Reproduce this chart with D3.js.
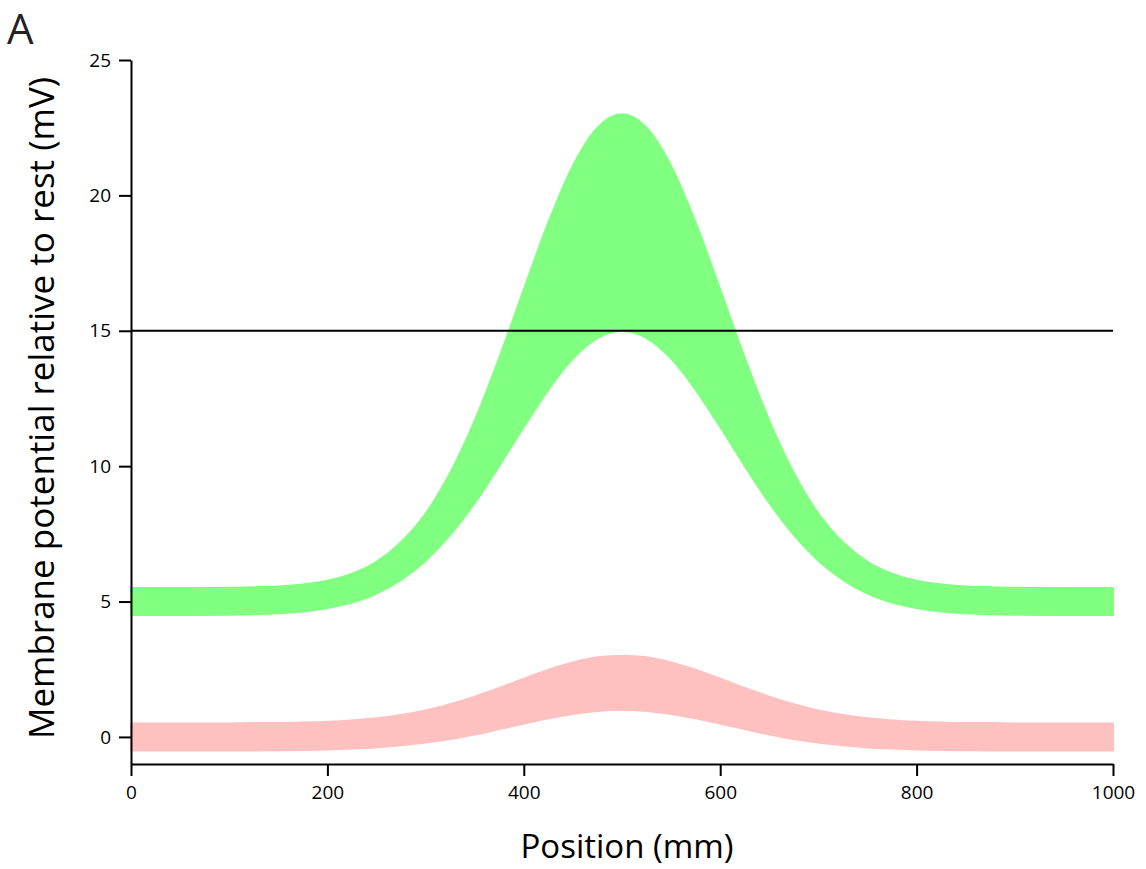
<!DOCTYPE html>
<html>
<head>
<meta charset="utf-8">
<script src="https://cdn.jsdelivr.net/npm/d3@7"></script>
<style>
  html, body { margin: 0; padding: 0; background: #fff; }
  svg { display: block; font-family: "Open Sans", "Noto Sans", sans-serif; }
</style>
</head>
<body>
<svg id="chart" width="1146" height="869"></svg>
<script>
// Position along the cable (mm)
const positions = [0, 50, 100, 125, 150, 175, 200, 225, 250, 275, 300, 325, 350, 375, 400, 425, 450, 475, 500,
                   525, 550, 575, 600, 625, 650, 675, 700, 725, 750, 775, 800, 825, 850, 875, 900, 950, 1000];

// Strong input: upper and lower edges of the potential envelope (mV)
const strongUpper = [5.50, 5.50, 5.51, 5.53, 5.56, 5.63, 5.77, 6.03, 6.47, 7.19, 8.25, 9.75, 11.68, 14.00, 16.52, 18.99, 21.09, 22.50, 23.00,
                     22.50, 21.09, 18.99, 16.52, 14.00, 11.68, 9.75, 8.25, 7.19, 6.47, 6.03, 5.77, 5.63, 5.56, 5.53, 5.51, 5.50, 5.50];
const strongLower = [4.50, 4.50, 4.51, 4.53, 4.57, 4.63, 4.76, 4.96, 5.29, 5.80, 6.51, 7.46, 8.64, 10.01, 11.45, 12.82, 13.97, 14.73, 15.00,
                     14.73, 13.97, 12.82, 11.45, 10.01, 8.64, 7.46, 6.51, 5.80, 5.29, 4.96, 4.76, 4.63, 4.57, 4.53, 4.51, 4.50, 4.50];

// Weak input: upper and lower edges of the potential envelope (mV)
const weakUpper = [0.50, 0.50, 0.50, 0.51, 0.51, 0.53, 0.56, 0.61, 0.69, 0.81, 0.98, 1.21, 1.49, 1.81, 2.15, 2.48, 2.75, 2.94, 3.00,
                   2.94, 2.75, 2.48, 2.15, 1.81, 1.49, 1.21, 0.98, 0.81, 0.69, 0.61, 0.56, 0.53, 0.51, 0.51, 0.50, 0.50, 0.50];
const weakLower = [-0.50, -0.50, -0.50, -0.50, -0.49, -0.48, -0.46, -0.43, -0.39, -0.31, -0.21, -0.08, 0.09, 0.29, 0.49, 0.69, 0.85, 0.96, 1.00,
                   0.96, 0.85, 0.69, 0.49, 0.29, 0.09, -0.08, -0.21, -0.31, -0.39, -0.43, -0.46, -0.48, -0.49, -0.50, -0.50, -0.50, -0.50];

// Firing threshold (mV)
const threshold = 15;

const xTicks = [0, 200, 400, 600, 800, 1000];
const yTicks = [0, 5, 10, 15, 20, 25];

const svg = d3.select("#chart");
const W = 1146;

const x = d3.scaleLinear().domain([0, 1000]).range([131, W - 33]);
const y = d3.scaleLinear().domain([-1, 25]).range([764, 60]);

function band(upper, lower) {
  return positions.map((p, i) => ({ p, hi: upper[i], lo: lower[i] }));
}

const area = d3.area()
  .x(d => x(d.p))
  .y0(d => y(d.lo))
  .y1(d => y(d.hi))
  .curve(d3.curveMonotoneX);

const bands = [
  { data: band(weakUpper, weakLower), color: "#ffc0c0" },
  { data: band(strongUpper, strongLower), color: "#80ff80" }
];

svg.selectAll("path.band")
  .data(bands)
  .join("path")
  .attr("class", "band")
  .attr("d", d => area(d.data))
  .attr("fill", d => d.color)
  .attr("stroke", d => d.color)
  .attr("stroke-width", 2)
  .attr("stroke-linejoin", "round");

// threshold line
svg.append("line")
  .attr("x1", x(0)).attr("x2", x(1000))
  .attr("y1", y(threshold)).attr("y2", y(threshold))
  .attr("stroke", "#000").attr("stroke-width", 2);

// axes
const xAxis = d3.axisBottom(x).tickValues(xTicks).tickFormat(d3.format("d"))
  .tickSize(12).tickSizeOuter(0).tickPadding(10);
const yAxis = d3.axisLeft(y).tickValues(yTicks).tickFormat(d3.format("d"))
  .tickSize(12).tickSizeOuter(0).tickPadding(8);

const gx = svg.append("g").attr("transform", `translate(0,${y(-1)})`).call(xAxis);
const gy = svg.append("g").attr("transform", `translate(${x(0)},0)`).call(yAxis);

[gx, gy].forEach(g => {
  g.select(".domain").attr("stroke", "#000").attr("stroke-width", 2);
  g.selectAll(".tick line").attr("stroke", "#000").attr("stroke-width", 2);
  g.selectAll(".tick text")
    .attr("fill", "#000")
    .style("font-family", "'Open Sans', 'Noto Sans', sans-serif")
    .style("font-size", "19px");
});

// axis titles
svg.append("text")
  .attr("x", 627).attr("y", 858)
  .attr("text-anchor", "middle")
  .style("font-size", "33px")
  .attr("fill", "#000")
  .text("Position (mm)");

svg.append("text")
  .attr("transform", `translate(54,408) rotate(-90)`)
  .attr("text-anchor", "middle")
  .style("font-size", "35px")
  .attr("fill", "#000")
  .text("Membrane potential relative to rest (mV)");

// panel label
svg.append("text")
  .attr("x", 7).attr("y", 44)
  .style("font-size", "42px")
  .attr("fill", "#222")
  .text("A");
</script>
</body>
</html>
